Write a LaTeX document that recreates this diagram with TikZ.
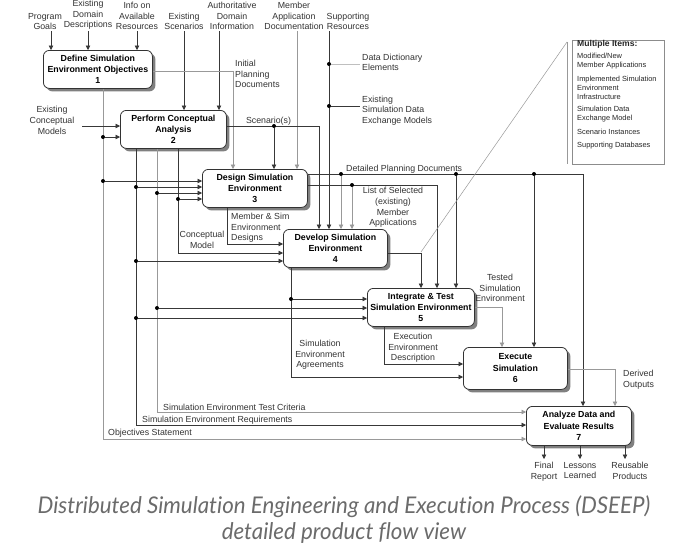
\documentclass[tikz,border=0pt]{standalone}
\usepackage{fontspec}
\setmainfont{Liberation Sans}
\newfontfamily\capfont[Ligatures={NoCommon}]{Lato}
\usetikzlibrary{arrows.meta,shadows,calc}
\tikzset{
  proc/.style={draw=black!80, fill=white, rounded corners=6pt, line width=0.8pt, align=center,
    font=\bfseries\fontsize{8.8}{11.4}\selectfont, inner sep=0pt, anchor=north west,
    drop shadow={shadow xshift=3pt, shadow yshift=-3pt, fill=black!50, opacity=1}},
  ln/.style={draw=black!78, line width=0.65pt},
  gln/.style={draw=black!40, line width=0.8pt},
  arr/.style={-{Triangle[length=4.5pt,width=4.5pt]}},
  lbl/.style={font=\fontsize{8.8}{10.7}\selectfont, text=black!80, align=center, inner sep=0pt},
  lbll/.style={lbl, align=left},
  dotn/.style={circle, fill=black, inner sep=0pt, minimum size=4pt},
  smalltxt/.style={font=\fontsize{7.4}{9.2}\selectfont, text=black!85, align=left, inner sep=0pt, anchor=north west},
}
\begin{document}
\begin{tikzpicture}[x=1pt,y=-1pt]
\fill[white] (0,0) rectangle (688,552);
\useasboundingbox (0,0) rectangle (688,552);

% process boxes
\node[proc, minimum width=109pt, minimum height=38pt] (b1) at (43,50) {Define Simulation\\Environment Objectives\\1};
\node[proc, minimum width=106pt, minimum height=38pt] (b2) at (120,110) {Perform Conceptual\\Analysis\\2};
\node[proc, minimum width=105pt, minimum height=38pt] (b3) at (202,169) {Design Simulation\\Environment\\3};
\node[proc, minimum width=104pt, minimum height=38pt] (b4) at (283,229) {Develop Simulation\\Environment\\4};
\node[proc, minimum width=107pt, minimum height=38pt] (b5) at (367,288) {Integrate \& Test\\Simulation Environment\\5};
\node[proc, minimum width=104pt, minimum height=42pt] (b6) at (463,347) {Execute\\Simulation\\6};
\node[proc, minimum width=105pt, minimum height=39pt] (b7) at (526,406) {Analyze Data and\\Evaluate Results\\7};

% top inputs
\node[lbl, anchor=south] (pg) at (45,30) {Program\\Goals};
\node[lbl, anchor=south] (edd) at (88,30) {Existing\\Domain\\Descriptions};
\node[lbl, anchor=south] (iar) at (137,30) {Info on\\Available\\Resources};
\node[lbl, anchor=south] (es) at (184,30) {Existing\\Scenarios};
\node[lbl, anchor=south] (adi) at (232,30) {Authoritative\\Domain\\Information};
\node[lbl, anchor=south] (mad) at (294,30) {Member\\Application\\Documentation};
\node[lbl, anchor=south] (sr) at (348,30) {Supporting\\Resources};
\draw[ln,arr] (51,31) -- (51,0 |- b1.north);
\draw[ln,arr] (88,31) -- (88,0 |- b1.north);
\draw[ln,arr] (137,31) -- (137,0 |- b1.north);
\draw[ln,arr] (184,31) -- (184,0 |- b2.north);
\draw[ln,arr] (219,31) -- (219,0 |- b2.north);
\draw[gln,arr] (297,31) -- (297,0 |- b3.north);
\draw[ln,arr] (329,31) -- (329,0 |- b4.north);

% supporting resources taps
\node[lbll, anchor=west] (dde) at (362,62.5) {Data Dictionary\\Elements};
\node[lbll, anchor=west] (esd) at (362,110.5) {Existing\\Simulation Data\\Exchange Models};
\node[dotn] (d1) at (329,64) {};
\node[dotn] (d2) at (329,106) {};
\draw[draw=black!25, line width=0.6pt] (d1) -- (360,64);
\draw[ln] (d2) -- (360,106);

% box 1 outputs
\draw[gln,arr] (b1.east |- 0,71) -| (233,0 |- b3.north);
\node[lbll, anchor=west] (ipd) at (235,74) {Initial\\Planning\\Documents};
\draw[gln,arr] (103,0 |- b1.south) |- (b7.west |- 0,439);
\node[dotn] (d3) at (103,137) {};
\node[dotn] (d4) at (103,181) {};
\draw[ln,arr] (d3) -- (b2.west |- d3);
\draw[ln,arr] (d4) -- (b3.west |- d4);
\node[lbl, anchor=west] (os) at (108,433.5) {Objectives Statement};

% existing conceptual models
\node[lbl] (ecm) at (52,120.5) {Existing\\Conceptual\\Models};
\coordinate (ecmend) at (82,126);
\draw[ln,arr] (ecmend) -- (b2.west |- ecmend);

% box 2 outputs
\draw[ln,arr] (b2.east |- 0,126) -| (319,0 |- b4.north);
\node[dotn] (d5) at (274,126) {};
\draw[ln,arr] (d5) -- (d5 |- b3.north);
\node[lbl] (scn) at (268.5,121) {Scenario(s)};

\draw[ln,arr] (136,0 |- b2.south) |- (b7.west |- 0,425);
\draw[gln,arr] (157,0 |- b2.south) |- (b7.west |- 0,412);
\draw[ln,arr] (178,0 |- b2.south) |- (b4.west |- 0,253);
\node[dotn] (d6) at (136,187) {};
\node[dotn] (d7) at (157,193) {};
\node[dotn] (d8) at (178,199) {};
\node[dotn] (d9) at (136,261) {};
\node[dotn] (d10) at (157,308) {};
\node[dotn] (d11) at (136,318) {};
\draw[ln,arr] (d6) -- (b3.west |- d6);
\draw[ln,arr] (d7) -- (b3.west |- d7);
\draw[ln,arr] (d8) -- (b3.west |- d8);
\draw[ln,arr] (d9) -- (b4.west |- d9);
\draw[ln,arr] (d10) -- (b5.west |- d10);
\draw[ln,arr] (d11) -- (b5.west |- d11);
\node[lbl] (cm) at (202,240) {Conceptual\\Model};
\node[lbl, anchor=west] (setc) at (163,407) {Simulation Environment Test Criteria};
\node[lbl, anchor=west] (ser) at (142,420) {Simulation Environment Requirements};

% box 3 outputs
\draw[ln,arr] (b3.east |- 0,174) -| (583,0 |- b7.north);
\node[dotn] (d12) at (341,174) {};
\node[dotn] (d13) at (456,174) {};
\node[dotn] (d14) at (534,174) {};
\draw[gln,arr] (d12) -- (d12 |- b4.north);
\draw[ln,arr] (d13) -- (d13 |- b5.north);
\draw[ln,arr] (d14) -- (d14 |- b6.north);
\node[lbl, anchor=west] (dpd) at (346,169) {Detailed Planning Documents};

\draw[ln,arr] (b3.east |- 0,185) -| (437,0 |- b5.north);
\node[dotn] (d15) at (352,185) {};
\draw[gln,arr] (d15) -- (d15 |- b4.north);
\node[lbl] (lsm) at (393,207.5) {List of Selected\\(existing)\\Member\\Applications};

\draw[ln,arr] (227,0 |- b3.south) |- (b4.west |- 0,244);
\node[lbll, anchor=west] (msd) at (231,228) {Member \& Sim\\Environment\\Designs};

% box 4 outputs
\draw[ln,arr] (b4.east |- 0,253) -| (421,0 |- b5.north);
\coordinate (mic) at (567,42);
\draw[draw=black!40, line width=0.5pt] (421,252) -- (mic);
\draw[ln,arr] (291,0 |- b4.south) |- (b6.west |- 0,377);
\node[dotn] (d16) at (291,299) {};
\draw[ln,arr] (d16) -- (b5.west |- d16);
\node[lbl] (sea) at (320,355) {Simulation\\Environment\\Agreements};

% box 5 outputs
\draw[gln,arr] (b5.east |- 0,307) -| (502,0 |- b6.north);
\node[lbl] (tse) at (500,288) {Tested\\Simulation\\Environment};
\draw[ln,arr] (384,0 |- b5.south) |- (b6.west |- 0,364);
\node[lbl] (eed) at (413,348) {Execution\\Environment\\Description};

% box 6 outputs
\draw[gln,arr] (b6.east |- 0,369) -| (615,0 |- b7.north);
\node[lbll, anchor=west] (dout) at (623,380) {Derived\\Outputs};

% box 7 outputs
\coordinate (o1) at (544,459);
\coordinate (o2) at (580,459);
\coordinate (o3) at (625,459);
\draw[ln,arr] (o1 |- b7.south) -- (o1);
\draw[ln,arr] (o2 |- b7.south) -- (o2);
\draw[ln,arr] (o3 |- b7.south) -- (o3);
\node[lbl, anchor=north] (fr) at (544,462) {Final\\Report};
\node[lbl, anchor=north] (ll) at (580,462) {Lessons\\Learned};
\node[lbl, anchor=north] (rp) at (630,462) {Reusable\\Products};

% multiple items box
\node[draw=black!45, line width=0.8pt, anchor=north west, minimum width=92pt, minimum height=124pt, inner sep=0pt] (mib) at (572,40) {};
\draw[draw=black!40, line width=0.6pt] (mic) -- (567,164);
\node[smalltxt] (mit) at (577,40.5) {{\bfseries\fontsize{8.6}{10}\selectfont Multiple Items:}\\[2pt]
Modified/New\\Member Applications\\[4.5pt]
Implemented Simulation\\Environment\\Infrastructure\\[2.5pt]
Simulation Data\\Exchange Model\\[4.5pt]
Scenario Instances\\[4.5pt]
Supporting Databases};

% caption
\node[text=black!58, align=center, inner sep=0pt] (cap) at (344,519.5) {\scalebox{0.97}[1]{\capfont\itshape\fontsize{23}{27}\selectfont\shortstack{Distributed Simulation Engineering and Execution Process (DSEEP)\\[2pt]detailed product flow view}}};
\end{tikzpicture}
\end{document}
